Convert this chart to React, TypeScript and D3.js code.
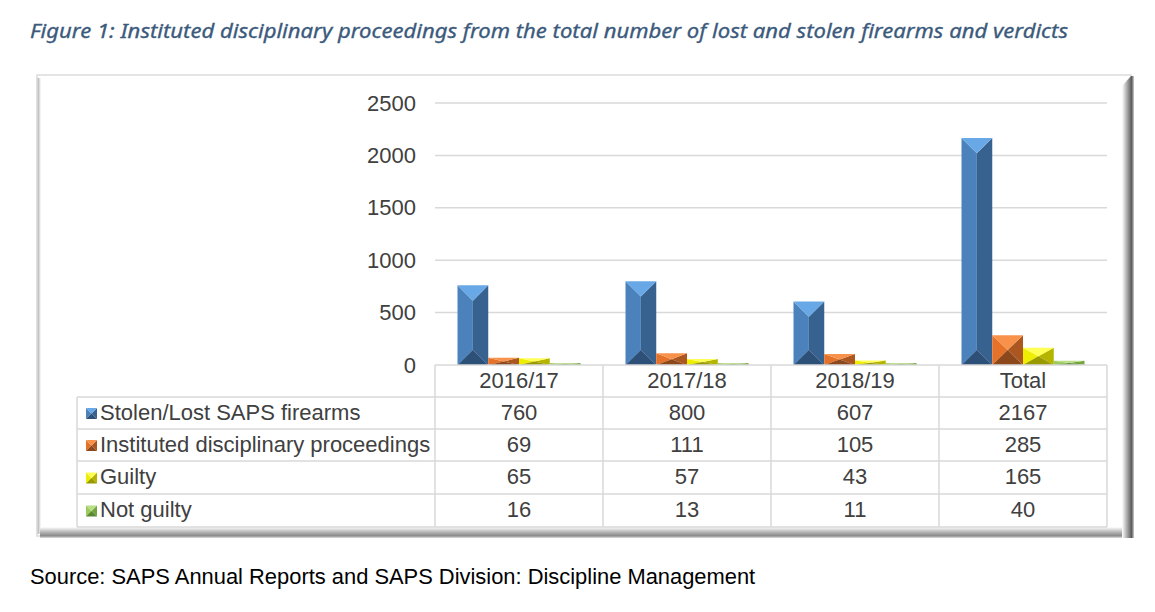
import React from "react";
import * as d3 from "d3";

const categories = ["2016/17", "2017/18", "2018/19", "Total"];
const seriesNames = ["Stolen/Lost SAPS firearms", "Instituted disciplinary proceedings", "Guilty", "Not guilty"];
const stolenLost = [760, 800, 607, 2167];
const instituted = [69, 111, 105, 285];
const guilty = [65, 57, 43, 165];
const notGuilty = [16, 13, 11, 40];
const yTicks = [0, 500, 1000, 1500, 2000, 2500];

const seriesValues = [stolenLost, instituted, guilty, notGuilty];

const palettes = [
  { top: "#68a8e6", left: "#4c82bc", right: "#37618e", bottom: "#2d5079" },
  { top: "#f8924a", left: "#e6722a", right: "#ad5720", bottom: "#8c471a" },
  { top: "#ffff55", left: "#eeee00", right: "#b5b500", bottom: "#999900" },
  { top: "#b8de84", left: "#9acb5c", right: "#74a43f", bottom: "#5b8730" },
];

const TEXT = "#404040";
const GRID = "#d9d9d9";

function Bevel({ x0, x1, top, bottom, pal }: { x0: number; x1: number; top: number; bottom: number; pal: any }) {
  const w = x1 - x0;
  const h = bottom - top;
  const cx = (x0 + x1) / 2;
  const d = Math.min(w / 2, h / 2);
  const t = top + d;
  const b = bottom - d;
  const pts = (a: number[][]) => a.map((p) => p.join(",")).join(" ");
  return (
    <g>
      <polygon points={pts([[x0, top], [cx, t], [cx, b], [x0, bottom]])} fill={pal.left} />
      <polygon points={pts([[x1, top], [cx, t], [cx, b], [x1, bottom]])} fill={pal.right} />
      <polygon points={pts([[x0, top], [x1, top], [cx, t]])} fill={pal.top} />
      <polygon points={pts([[x0, bottom], [x1, bottom], [cx, b]])} fill={pal.bottom} />
    </g>
  );
}

export default function App() {
  const W = 1155, H = 612;
  const x = d3.scaleBand<string>().domain(categories).range([435, 1107]).paddingInner(0.268).paddingOuter(0.134);
  const xs = d3.scaleBand<number>().domain([0, 1, 2, 3]).range([0, x.bandwidth()]);
  const y = d3.scaleLinear().domain([0, 2500]).range([365, 103]);

  const rowTops = [365, 397, 429, 461, 494, 527];
  const colEdges = [435, 603, 771, 939, 1107];
  const font = "'Liberation Sans', Arial, sans-serif";
  const fs = 22;
  const off = 6.5;

  return (
    <svg width={W} height={H} style={{ position: "absolute", left: 0, top: 0, background: "#fff" }}>
      <defs>
        <linearGradient id="rsh" x1="0" x2="1" y1="0" y2="0">
          <stop offset="0" stopColor="#ffffff" />
          <stop offset="0.5" stopColor="#9a9a9a" />
          <stop offset="0.8" stopColor="#5a5a5a" />
          <stop offset="1" stopColor="#d0d0d0" />
        </linearGradient>
        <linearGradient id="bsh" x1="0" x2="0" y1="0" y2="1">
          <stop offset="0" stopColor="#ffffff" />
          <stop offset="0.5" stopColor="#b0b0b0" />
          <stop offset="0.8" stopColor="#8a8a8a" />
          <stop offset="1" stopColor="#e0e0e0" />
        </linearGradient>
        <linearGradient id="lsh" x1="0" x2="1" y1="0" y2="0">
          <stop offset="0" stopColor="#e8e8e8" />
          <stop offset="0.5" stopColor="#c4c4c4" />
          <stop offset="1" stopColor="#ffffff" />
        </linearGradient>
      </defs>

      {/* Title */}
      <text x={30} y={38} fontFamily="'Noto Sans', sans-serif" fontStyle="italic" fontSize={19} fill="#3b5a7c"
        stroke="#3b5a7c" strokeWidth={0.3} textLength={1038} lengthAdjust="spacingAndGlyphs">
        Figure 1: Instituted disciplinary proceedings from the total number of lost and stolen firearms and verdicts
      </text>

      {/* Frame */}
      <rect x={37} y={75} width={1094} height={461} fill="#fff" stroke="#dcdcdc" strokeWidth={1.5} />
      <rect x={36} y={78} width={5} height={456} fill="url(#lsh)" />
      <polygon points="1122,86 1131,76 1134,76 1134,538 1122,538" fill="url(#rsh)" />
      <rect x={40} y={527} width={1088} height={11} fill="url(#bsh)" />
      <rect x={1122} y={527} width={12} height={11} fill="url(#rsh)" />

      {/* Gridlines */}
      {yTicks.filter((t) => t > 0).map((t) => (
        <line key={t} x1={435} x2={1107} y1={y(t)} y2={y(t)} stroke={GRID} strokeWidth={1.5} />
      ))}
      {/* Y tick labels */}
      {yTicks.map((t) => (
        <text key={t} x={416} y={y(t) + 7.5} textAnchor="end" fontFamily={font} fontSize={fs} fill={TEXT}>{t}</text>
      ))}

      {/* Bars */}
      {categories.map((c, ci) => (
        <g key={c}>
          {seriesValues.map((vals, si) => {
            const x0 = (x(c) as number) + (xs(si) as number);
            const x1 = x0 + xs.bandwidth();
            const top = Math.min(y(vals[ci]), 363);
            return <Bevel key={si} x0={x0} x1={x1} top={top} bottom={365} pal={palettes[si]} />;
          })}
        </g>
      ))}

      {/* Table lines */}
      <line x1={435} x2={1107} y1={365} y2={365} stroke={GRID} strokeWidth={1.5} />
      {rowTops.slice(1).map((r) => (
        <line key={r} x1={77} x2={1107} y1={r} y2={r} stroke={GRID} strokeWidth={1.5} />
      ))}
      {colEdges.map((cx) => (
        <line key={cx} x1={cx} x2={cx} y1={365} y2={527} stroke={GRID} strokeWidth={1.5} />
      ))}
      <line x1={77} x2={77} y1={397} y2={527} stroke={GRID} strokeWidth={1.5} />

      {/* Header */}
      {categories.map((c) => (
        <text key={c} x={(x(c) as number) + x.bandwidth() / 2} y={(rowTops[0] + rowTops[1]) / 2 + off}
          textAnchor="middle" fontFamily={font} fontSize={fs} fill={TEXT}>{c}</text>
      ))}

      {/* Rows */}
      {seriesNames.map((name, si) => {
        const mid = (rowTops[si + 1] + rowTops[si + 2]) / 2;
        return (
          <g key={name}>
            <Bevel x0={86} x1={97} top={mid - 5} bottom={mid + 6} pal={palettes[si]} />
            <text x={100} y={mid + off} fontFamily={font} fontSize={fs} fill={TEXT}>{name}</text>
            {categories.map((c, ci) => (
              <text key={c} x={(x(c) as number) + x.bandwidth() / 2} y={mid + off} textAnchor="middle"
                fontFamily={font} fontSize={fs} fill={TEXT}>{seriesValues[si][ci]}</text>
            ))}
          </g>
        );
      })}

      {/* Source */}
      <text x={30} y={584} fontFamily={font} fontSize={21.9} fill="#000">
        Source: SAPS Annual Reports and SAPS Division: Discipline Management
      </text>
    </svg>
  );
}
